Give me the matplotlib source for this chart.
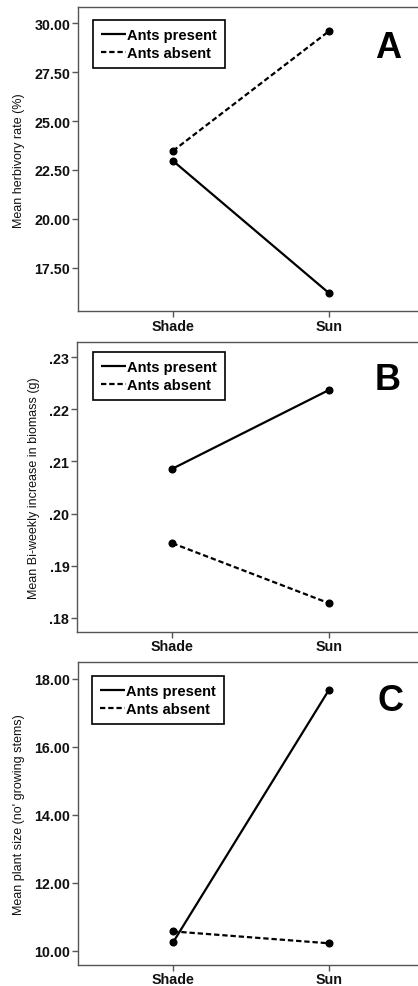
import matplotlib
matplotlib.use("Agg")
import matplotlib.pyplot as plt
from matplotlib.ticker import FuncFormatter, FixedLocator

categories = ["Shade", "Sun"]
series_names = ["Ants present", "Ants absent"]

# Panel A: Mean herbivory rate (%)
a_present = [22.96, 16.20]
a_absent = [23.48, 29.60]
a_ticks = [17.5, 20.0, 22.5, 25.0, 27.5, 30.0]

# Panel B: Mean bi-weekly increase in biomass (g)
b_present = [0.2086, 0.2237]
b_absent = [0.1943, 0.1828]
b_ticks = [0.18, 0.19, 0.20, 0.21, 0.22, 0.23]

# Panel C: Mean plant size (no' growing stems)
c_present = [10.25, 17.68]
c_absent = [10.57, 10.22]
c_ticks = [10.0, 12.0, 14.0, 16.0, 18.0]

W, H = 418, 987
fig = plt.figure(figsize=(W / 100, H / 100), dpi=100)
fig.patch.set_facecolor("white")

SP = "#555555"
FONT = "Liberation Sans"

def px_axes(left, top, bottom, right=418):
    return fig.add_axes([left / W, (H - bottom) / H, (right - left) / W, (bottom - top) / H])

panels = [
    dict(box=(78, 8.3, 312.3), ylim=(15.27, 30.82), ticks=a_ticks, present=a_present, absent=a_absent,
         fmt=lambda v, p: f"{v:.2f}", ylabel="Mean herbivory rate (%)", letter="A", lpos=(0.912, 0.869),
         legpos=((92.7 - 78) / 340, (312.3 - 21) / 304)),
    dict(box=(77, 343.3, 632.7), ylim=(0.17731, 0.23288), ticks=b_ticks, present=b_present, absent=b_absent,
         fmt=lambda v, p: f"{v:.2f}".lstrip("0"), ylabel="Mean Bi-weekly increase in biomass (g)", letter="B",
         lpos=(0.912, 0.873), legpos=((92.7 - 77) / 341, (632.7 - 353.3) / 289.4)),
    dict(box=(78, 663.3, 965.7), ylim=(9.59, 18.49), ticks=c_ticks, present=c_present, absent=c_absent,
         fmt=lambda v, p: f"{v:.2f}", ylabel="Mean plant size (no' growing stems)", letter="C",
         lpos=(0.918, 0.873), legpos=((91.7 - 78) / 340, (965.7 - 677) / 302.4)),
]

x = list(range(len(categories)))

for p in panels:
    left, top, bottom = p["box"]
    ax = px_axes(left, top, bottom)
    ax.set_xlim(-0.61, 1.571)
    ax.set_ylim(*p["ylim"])
    l1, = ax.plot(x, p["present"], color="black", lw=1.6, marker="o", ms=4.8,
                  solid_capstyle="butt", label=series_names[0])
    l2, = ax.plot(x, p["absent"], color="black", lw=1.6, marker="o", ms=4.8,
                  linestyle=(0, (2.4, 1.3)), label=series_names[1])
    ax.set_xticks(x)
    ax.set_xticklabels(categories)
    ax.yaxis.set_major_locator(FixedLocator(p["ticks"]))
    ax.yaxis.set_major_formatter(FuncFormatter(p["fmt"]))
    for s in ["left", "bottom", "top"]:
        ax.spines[s].set_color(SP)
        ax.spines[s].set_linewidth(1.0)
    ax.spines["right"].set_visible(False)
    ax.tick_params(axis="both", direction="out", length=4, width=1.0, color=SP)
    ax.tick_params(axis="y", pad=1.5)
    ax.tick_params(axis="x", pad=1.5)
    for lab in ax.get_xticklabels() + ax.get_yticklabels():
        lab.set_fontfamily(FONT)
        lab.set_fontweight("bold")
        lab.set_fontsize(10.3)
        lab.set_color("#111111")
    ax.set_ylabel(p["ylabel"], fontfamily=FONT, fontsize=9, labelpad=7, color="#111111")
    leg = ax.legend(handles=[l1, l2], loc="upper left", bbox_to_anchor=p["legpos"], borderaxespad=0,
                    fancybox=False, frameon=True, edgecolor="black", framealpha=1,
                    handlelength=1.7, handletextpad=0.1, borderpad=0.55, labelspacing=0.25,
                    prop=dict(family=FONT, weight="bold", size=10.5))
    leg.get_frame().set_linewidth(1.2)
    for h in leg.legend_handles:
        h.set_marker("")
    ax.text(p["lpos"][0], p["lpos"][1], p["letter"], transform=ax.transAxes, ha="center", va="center",
            fontfamily=FONT, fontweight="bold", fontsize=26)

fig.savefig("out.png", dpi=100)
